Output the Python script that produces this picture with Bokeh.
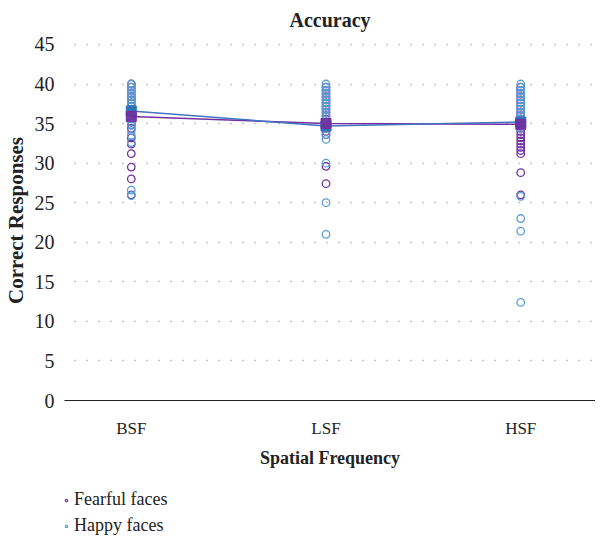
from bokeh.plotting import figure
from bokeh.layouts import column
from bokeh.models import Range1d, FixedTicker, Legend, LegendItem
from bokeh.embed import file_html
from bokeh.resources import INLINE

categories = ["BSF", "LSF", "HSF"]
y_ticks = [0, 5, 10, 15, 20, 25, 30, 35, 40, 45]
series_names = ["Fearful faces", "Happy faces"]

fearful_bsf = [40, 39.6, 39.2, 38.8, 38.4, 38, 37.6, 37.2, 36.8, 36.4, 36, 35.6, 35.2, 34.8, 34.4, 33.2, 32.4, 31.2, 29.5, 28, 26]
happy_bsf = [40, 39.6, 39.2, 38.8, 38.4, 38, 37.6, 37.2, 36.8, 36.4, 36, 35.6, 35.2, 34.8, 34.1, 33.5, 32.6, 26.6, 25.9]
fearful_lsf = [39.6, 39.2, 38.8, 38.4, 38, 37.6, 37.2, 36.8, 36.4, 36, 35.6, 35.2, 34.8, 34.4, 34, 33.6, 29.6, 27.4]
happy_lsf = [40, 39.6, 39.2, 38.8, 38.4, 38, 37.6, 37.2, 36.8, 36.4, 36, 35.2, 34.4, 33.6, 33, 30, 25, 21]
fearful_hsf = [39.6, 39.2, 38.8, 38.4, 38, 37.6, 37.2, 36.8, 36.4, 36, 35.6, 35.2, 34.8, 34.4, 34, 33.6, 33.2, 32.8, 32.4, 32, 31.6, 31.2, 28.8, 26]
happy_hsf = [40, 39.6, 39.2, 38.8, 38.4, 38, 37.6, 37.2, 36.8, 36.4, 36, 35.6, 35.2, 34.8, 34.4, 25.8, 23, 21.4, 12.4]

fearful_means = [35.9, 35.0, 34.9]
happy_means = [36.6, 34.7, 35.2]

PURPLE = "#7030a0"
BLUE = "#5b9bd5"
BLUE_DARK = "#2e75b6"
FONT = "Liberation Serif"

p = figure(width=595, height=470, output_backend="svg", toolbar_location=None,
           x_range=Range1d(-0.343, 2.384), y_range=Range1d(0, 45.5),
           min_border_left=55, min_border_right=0, min_border_top=40, min_border_bottom=69,
           title="Accuracy")
p.outline_line_color = None
p.title.text_font = FONT
p.title.text_font_size = "20px"
p.title.text_font_style = "bold"
p.title.align = "center"
p.title.vertical_align = "top"
p.title.text_color = "#222222"
p.title.standoff = 16

def scatter_group(fig, vals_lists, color):
    xs, ys = [], []
    for i, vals in enumerate(vals_lists):
        xs += [i] * len(vals)
        ys += vals
    return fig.scatter(xs, ys, marker="circle", size=7.5, fill_color=None,
                       line_color=color, line_width=1.3)

scatter_group(p, [fearful_bsf, fearful_lsf, fearful_hsf], PURPLE)
scatter_group(p, [happy_bsf, happy_lsf, happy_hsf], BLUE)

xi = list(range(len(categories)))
p.line(xi, fearful_means, line_color=PURPLE, line_width=1.5)
p.line(xi, happy_means, line_color="#4472c4", line_width=1.5)
p.scatter(xi, happy_means, marker="square", size=10, fill_color=BLUE_DARK, line_color=BLUE_DARK)
p.scatter(xi, fearful_means, marker="square", size=10, fill_color=PURPLE, line_color=PURPLE, fill_alpha=0.9)

# axes
p.xaxis.ticker = FixedTicker(ticks=xi)
p.xaxis.major_label_overrides = {i: c for i, c in enumerate(categories)}
p.xaxis.major_tick_line_color = None
p.xaxis.minor_tick_line_color = None
p.xaxis.axis_line_color = "#222222"
p.xaxis.axis_line_width = 1.2
p.xaxis.major_label_text_font = FONT
p.xaxis.major_label_text_font_size = "17px"
p.xaxis.major_label_text_color = "#222222"
p.xaxis.major_label_standoff = 12
p.xaxis.axis_label = "Spatial Frequency"
p.xaxis.axis_label_text_font = FONT
p.xaxis.axis_label_text_font_size = "18px"
p.xaxis.axis_label_text_font_style = "bold"
p.xaxis.axis_label_text_color = "#222222"
p.xaxis.axis_label_standoff = 7

p.yaxis.ticker = FixedTicker(ticks=y_ticks)
p.yaxis.major_tick_line_color = None
p.yaxis.minor_tick_line_color = None
p.yaxis.axis_line_color = None
p.yaxis.major_label_text_font = FONT
p.yaxis.major_label_text_font_size = "20px"
p.yaxis.major_label_text_color = "#222222"
p.yaxis.major_label_standoff = 4
p.yaxis.axis_label = "Correct Responses"
p.yaxis.axis_label_text_font = FONT
p.yaxis.axis_label_text_font_size = "21px"
p.yaxis.axis_label_text_font_style = "bold"
p.yaxis.axis_label_text_color = "#222222"
p.yaxis.axis_label_standoff = 4

p.xgrid.grid_line_color = None
p.ygrid.grid_line_color = "#8c8c8c"
p.ygrid.grid_line_dash = "1 11"
p.ygrid.grid_line_dash_offset = 2
p.ygrid.grid_line_width = 1.5

# legend strip below the chart
leg = figure(width=595, height=65, output_backend="svg", toolbar_location=None,
             x_range=Range1d(0, 1), y_range=Range1d(0, 1),
             x_axis_type=None, y_axis_type=None,
             min_border_left=0, min_border_right=0, min_border_top=0, min_border_bottom=0)
leg.outline_line_color = None
leg.grid.grid_line_color = None
lf = leg.scatter([-5], [-5], marker="circle", size=6, fill_color=None, line_color=PURPLE, line_width=1.2)
lh = leg.scatter([-5], [-5], marker="circle", size=6, fill_color=None, line_color=BLUE, line_width=1.2)
legend = Legend(items=[LegendItem(label=series_names[0], renderers=[lf]),
                       LegendItem(label=series_names[1], renderers=[lh])],
                location=(-1, -1), orientation="vertical",
                glyph_width=6, glyph_height=18, label_height=18, spacing=5,
                label_standoff=5, padding=0, margin=0,
                border_line_color=None, background_fill_alpha=0,
                label_text_font=FONT, label_text_font_size="18px",
                label_text_color="#222222")
leg.add_layout(legend, "center")

open("out.html", "w").write(file_html(column(p, leg), INLINE))
